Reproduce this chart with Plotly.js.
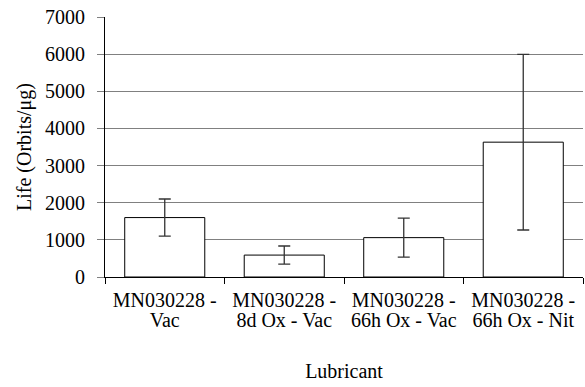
<!DOCTYPE html>
<html><head><meta charset="utf-8">
<script src="https://cdn.plot.ly/plotly-3.0.1.min.js"></script>
<style>
html,body{margin:0;padding:0;background:#fff}
#chart{width:585px;height:387px}
#chart svg text{font-family:"Liberation Serif","Times New Roman",serif !important}
</style>
</head><body><div id="chart"></div>
<script>
const categories = ["MN030228 -|Vac", "MN030228 -|8d Ox - Vac", "MN030228 -|66h Ox - Vac", "MN030228 -|66h Ox - Nit"];
const lifeValues = [1600, 590, 1060, 3630];
const lifeErrors = [500, 245, 525, 2365];
const yTicks = [0, 1000, 2000, 3000, 4000, 5000, 6000, 7000];

const line1 = categories.map(c => c.split("|")[0]);
const line2 = categories.map(c => c.split("|")[1]);
function mkFont() { return {family: "Liberation Serif", size: 20, color: "#000000"}; }

Plotly.newPlot("chart", [{
  type: "bar",
  x: categories,
  y: lifeValues,
  marker: {color: "#ffffff", line: {color: "#000000", width: 1}},
  error_y: {type: "data", array: lifeErrors, visible: true, color: "#333333", thickness: 1.3, width: 6},
  hoverinfo: "skip"
}, {
  type: "scatter", mode: "none",
  x: categories, y: lifeValues, xaxis: "x2", hoverinfo: "skip", showlegend: false
}], {
  width: 585, height: 387,
  margin: {l: 105, r: 2, t: 17, b: 110},
  paper_bgcolor: "#fff", plot_bgcolor: "#fff",
  showlegend: false,
  bargap: 0.33,
  xaxis: {
    type: "category",
    tickson: "boundaries",
    ticks: "outside", ticklen: 6, tickcolor: "#000",
    showline: true, linecolor: "#000", linewidth: 1,
    showgrid: false,
    tickvals: categories, ticktext: line1,
    tickfont: mkFont(),
    ticklabelstandoff: 5,
    automargin: false,
    title: {text: "Lubricant", font: mkFont(), standoff: 53}
  },
  xaxis2: {
    type: "category",
    overlaying: "x", matches: "x", side: "bottom", anchor: "y",
    ticks: "", showline: false, showgrid: false,
    tickvals: categories, ticktext: line2,
    tickfont: mkFont(),
    ticklabelstandoff: 29,
    automargin: false
  },
  yaxis: {
    range: [0, 7000],
    tickvals: yTicks,
    ticktext: yTicks.map(String),
    ticks: "outside", ticklen: 7, tickcolor: "#808080",
    showline: true, linecolor: "#000", linewidth: 1,
    showgrid: true, gridcolor: "#808080", gridwidth: 1,
    zeroline: false,
    tickfont: mkFont(),
    ticklabelstandoff: 8,
    automargin: false,
    title: {text: "Life (Orbits/μg)", font: mkFont(), standoff: 8}
  }
}, {displayModeBar: false, staticPlot: true});
</script></body></html>
